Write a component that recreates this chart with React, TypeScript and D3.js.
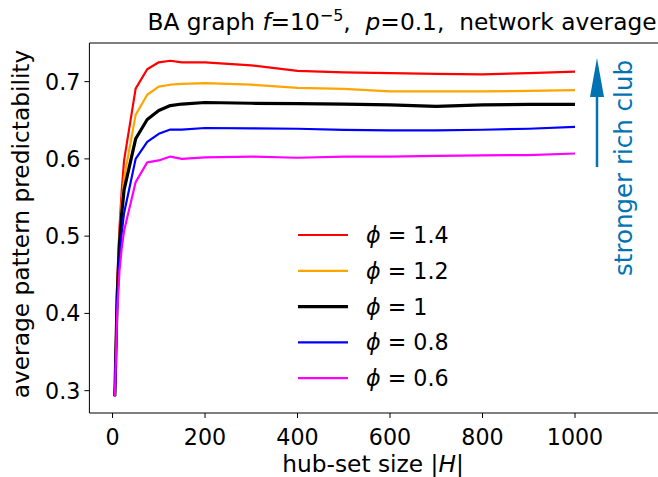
import React from "react";
import * as d3 from "d3";

const hubSizes = [5, 10, 15, 20, 25, 50, 75, 100, 125, 150, 200, 300, 400, 500, 600, 700, 800, 900, 1000];
const phi14 = [0.295, 0.44, 0.51, 0.56, 0.598, 0.691, 0.716, 0.725, 0.727, 0.725, 0.725, 0.721, 0.714, 0.712, 0.711, 0.710, 0.7095, 0.711, 0.713];
const phi12 = [0.292, 0.43, 0.50, 0.545, 0.575, 0.657, 0.683, 0.6935, 0.696, 0.697, 0.698, 0.696, 0.692, 0.6905, 0.6875, 0.6875, 0.6875, 0.688, 0.689];
const phi10 = [0.293, 0.42, 0.49, 0.53, 0.56, 0.626, 0.651, 0.6626, 0.669, 0.671, 0.673, 0.672, 0.6715, 0.671, 0.670, 0.668, 0.670, 0.6705, 0.6705];
const phi08 = [0.293, 0.415, 0.47, 0.505, 0.53, 0.600, 0.622, 0.6325, 0.638, 0.6378, 0.640, 0.6395, 0.639, 0.6375, 0.6368, 0.637, 0.6377, 0.639, 0.6415];
const phi06 = [0.292, 0.40, 0.455, 0.485, 0.507, 0.570, 0.5955, 0.598, 0.603, 0.600, 0.602, 0.603, 0.6015, 0.603, 0.603, 0.604, 0.6045, 0.605, 0.607];

const seriesLabels = ["1.4", "1.2", "1", "0.8", "0.6"];
const seriesValues = [phi14, phi12, phi10, phi08, phi06];
const seriesColors = ["#ff0000", "#ffa500", "#000000", "#0000ff", "#ff00ff"];
const seriesWidths = [2.2, 2.2, 3.2, 2.2, 2.2];

const xTicks = [0, 200, 400, 600, 800, 1000];
const yTicks = [0.3, 0.4, 0.5, 0.6, 0.7];

const FONT = "DejaVu Sans, sans-serif";
const FS = 22.2;
const FL = 23.3;

export default function App() {
  const W = 658, H = 477;
  const left = 89.4, right = 667.5, top = 43, bottom = 413;
  const x = d3.scaleLinear().domain([-50, 1200]).range([left, right]);
  const y = d3.scaleLinear().domain([0.2711, 0.75]).range([bottom, top]);
  const line = d3.line<number>()
    .x((_, i) => x(hubSizes[i]))
    .y((d) => y(d));

  const legX = 298, legX2 = 348, legY0 = 235, legDy = 35.8;
  const arrowX = 597;

  return (
    <svg width={W} height={H} style={{ position: "absolute", left: 0, top: 0, background: "#fff" }} fontFamily={FONT}>
      <defs>
        <clipPath id="plotclip">
          <rect x={left} y={top} width={right - left} height={bottom - top} />
        </clipPath>
      </defs>
      <rect width={W} height={H} fill="#fff" />
      <g clipPath="url(#plotclip)">
        {seriesValues.map((vals, i) => (
          <path key={i} d={line(vals) || ""} fill="none" stroke={seriesColors[i]} strokeWidth={seriesWidths[i]} strokeLinejoin="round" />
        ))}
      </g>
      <path d={`M${left},${top}H${right}V${bottom}H${left}Z`} fill="none" stroke="#000" strokeWidth={1} />
      {xTicks.map((t) => (
        <g key={t}>
          <line x1={x(t)} x2={x(t)} y1={bottom} y2={bottom + 5} stroke="#000" strokeWidth={1} />
          <text x={x(t)} y={bottom + 32} textAnchor="middle" fontSize={FS}>{t}</text>
        </g>
      ))}
      {yTicks.map((t) => (
        <g key={t}>
          <line x1={left - 5} x2={left} y1={y(t)} y2={y(t)} stroke="#000" strokeWidth={1} />
          <text x={left - 9} y={y(t) + 8} textAnchor="end" fontSize={FS}>{t.toFixed(1)}</text>
        </g>
      ))}
      <text x={373} y={472} textAnchor="middle" fontSize={FL}>
        hub-set size |<tspan fontStyle="italic">H</tspan>|
      </text>
      <text transform={`translate(29,${224}) rotate(-90)`} textAnchor="middle" fontSize={FL}>
        average pattern predictability
      </text>
      <text x={402} y={30} textAnchor="middle" fontSize={FL} style={{ whiteSpace: "pre" }}>
        <tspan>BA graph </tspan><tspan fontStyle="italic">f</tspan><tspan>=10</tspan><tspan dy={-9} fontSize={16}>−5</tspan><tspan dy={9}>,  </tspan><tspan fontStyle="italic">p</tspan><tspan>=0.1,  network average</tspan>
      </text>
      {seriesLabels.map((lab, i) => (
        <g key={lab}>
          <line x1={legX} x2={legX2} y1={legY0 + i * legDy} y2={legY0 + i * legDy} stroke={seriesColors[i]} strokeWidth={seriesWidths[i]} />
          <text x={legX + 68} y={legY0 + i * legDy + 8} fontSize={FS} style={{ whiteSpace: "pre" }}>
            <tspan fontStyle="italic">ϕ</tspan><tspan> = {lab}</tspan>
          </text>
        </g>
      ))}
      <line x1={arrowX} x2={arrowX} y1={167} y2={95} stroke="#0173b2" strokeWidth={2.5} />
      <path d={`M${arrowX - 7},${97}L${arrowX},${58}L${arrowX + 7},${97}Z`} fill="#0173b2" />
      <text transform={`translate(632,${168}) rotate(-90)`} textAnchor="middle" fontSize={24.5} fill="#0173b2">
        stronger rich club
      </text>
    </svg>
  );
}
